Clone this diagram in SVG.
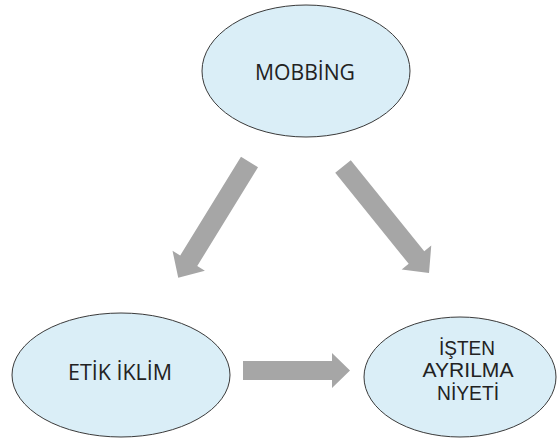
<svg xmlns="http://www.w3.org/2000/svg" width="558" height="441" viewBox="0 0 558 441">
  <style>
    .node ellipse { fill: #DAEEF7; stroke: #3A3A3A; stroke-width: 1; }
    .node text { font-family: "Open Sans", "Liberation Sans", Arial, sans-serif; font-size: 21.5px; fill: #222222; text-anchor: middle; }
    .node text.ml { font-family: "Liberation Sans", Arial, sans-serif; font-size: 20px; }
    .arrow { fill: #A6A6A6; stroke: none; }
  </style>
  <rect width="558" height="441" fill="#FFFFFF"/>
  <g id="connectors">
    <polygon class="arrow" transform="translate(249.5,162) rotate(121.6)" points="0,-10 116,-10 116,-19 136,0 116,19 116,10 0,10"/>
    <polygon class="arrow" transform="translate(343,166.5) rotate(51.1)" points="0,-10 117,-10 117,-19 137,0 117,19 117,10 0,10"/>
    <polygon class="arrow" transform="translate(243,370.5)" points="0,-9.5 89,-9.5 89,-17.5 107,0 89,17.5 89,9.5 0,9.5"/>
  </g>
  <g id="mobbing" class="node">
    <ellipse cx="306" cy="71" rx="104" ry="66"/>
    <text x="305" y="79.5" textLength="100" lengthAdjust="spacingAndGlyphs">MOBBİNG</text>
  </g>
  <g id="etik-iklim" class="node">
    <ellipse cx="121" cy="375" rx="109" ry="62"/>
    <text x="120" y="380" textLength="104" lengthAdjust="spacingAndGlyphs">ETİK İKLİM</text>
  </g>
  <g id="isten-ayrilma-niyeti" class="node">
    <ellipse cx="460" cy="377" rx="96" ry="60"/>
    <text class="ml" x="467" y="354.5" textLength="56" lengthAdjust="spacingAndGlyphs">İŞTEN</text>
    <text class="ml" x="468" y="377" textLength="91" lengthAdjust="spacingAndGlyphs">AYRILMA</text>
    <text class="ml" x="468" y="399.5" textLength="62" lengthAdjust="spacingAndGlyphs">NİYETİ</text>
  </g>
</svg>
